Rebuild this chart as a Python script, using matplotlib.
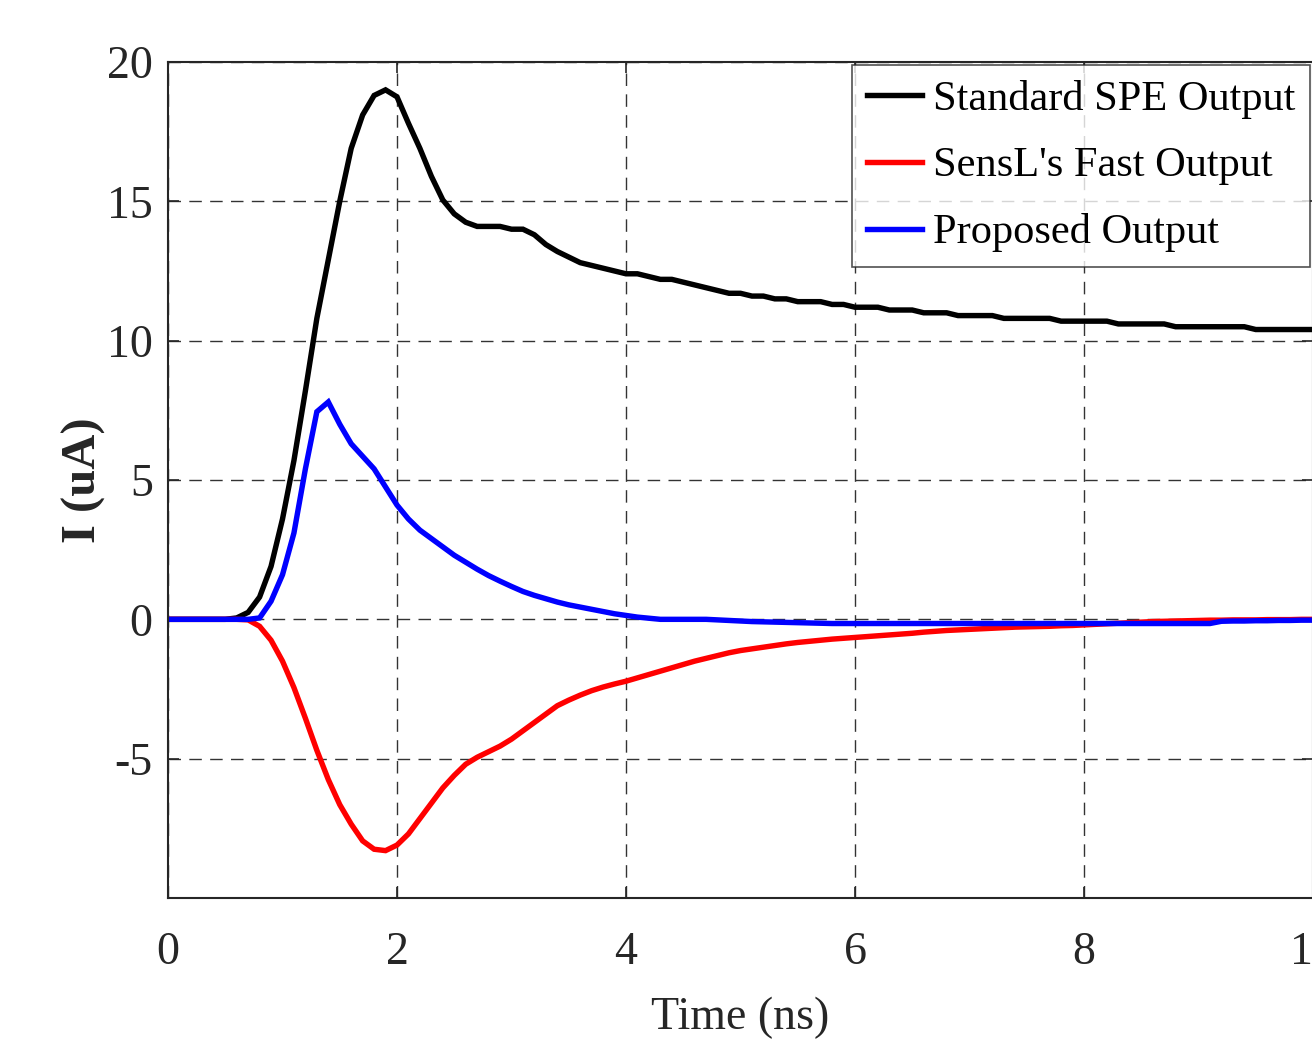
import numpy as np
import matplotlib
matplotlib.use("Agg")
import matplotlib.pyplot as plt

# ---- data (time in ns, current in uA), sampled every 0.1 ns ----
time_ns = [round(0.1 * i, 1) for i in range(101)]

standard_spe = [
    0, 0, 0, 0, 0, 0, 0.05, 0.25, 0.8, 1.9,            # 0.0-0.9
    3.6, 5.7, 8.2, 10.8, 12.9, 15.0, 16.9, 18.1, 18.8, 19.0,  # 1.0-1.9
    18.75, 17.8, 16.9, 15.9, 15.05, 14.55, 14.25, 14.1, 14.1, 14.1,  # 2.0-2.9
    14.0, 14.0, 13.8, 13.45, 13.2, 13.0, 12.8, 12.7, 12.6, 12.5,  # 3.0-3.9
    12.4, 12.4, 12.3, 12.2, 12.2, 12.1, 12.0, 11.9, 11.8, 11.7,   # 4.0-4.9
    11.7, 11.6, 11.6, 11.5, 11.5, 11.4, 11.4, 11.4, 11.3, 11.3,   # 5.0-5.9
    11.2, 11.2, 11.2, 11.1, 11.1, 11.1, 11.0, 11.0, 11.0, 10.9,   # 6.0-6.9
    10.9, 10.9, 10.9, 10.8, 10.8, 10.8, 10.8, 10.8, 10.7, 10.7,   # 7.0-7.9
    10.7, 10.7, 10.7, 10.6, 10.6, 10.6, 10.6, 10.6, 10.5, 10.5,   # 8.0-8.9
    10.5, 10.5, 10.5, 10.5, 10.5, 10.4, 10.4, 10.4, 10.4, 10.4,   # 9.0-9.9
    10.4,
]

sensl_fast = [
    0, 0, 0, 0, 0, 0, 0, -0.02, -0.25, -0.75,
    -1.5, -2.45, -3.55, -4.7, -5.75, -6.65, -7.35, -7.95, -8.25, -8.3,
    -8.1, -7.7, -7.15, -6.6, -6.05, -5.6, -5.2, -4.95, -4.75, -4.55,
    -4.3, -4.0, -3.7, -3.4, -3.1, -2.9, -2.72, -2.56, -2.43, -2.32,
    -2.22, -2.1, -1.98, -1.86, -1.74, -1.62, -1.5, -1.4, -1.3, -1.2,
    -1.12, -1.06, -1.0, -0.94, -0.88, -0.83, -0.79, -0.75, -0.71, -0.68,
    -0.65, -0.62, -0.59, -0.56, -0.53, -0.5, -0.46, -0.43, -0.4, -0.38,
    -0.36, -0.34, -0.32, -0.3, -0.28, -0.27, -0.26, -0.25, -0.23, -0.22,
    -0.2, -0.18, -0.16, -0.14, -0.12, -0.1, -0.08, -0.07, -0.06, -0.05,
    -0.04, -0.03, -0.03, -0.02, -0.02, -0.02, -0.01, -0.01, -0.01, 0.0,
    0.0,
]

proposed = [
    0, 0, 0, 0, 0, 0, 0, 0, 0.05, 0.65,
    1.6, 3.1, 5.4, 7.45, 7.8, 7.0, 6.3, 5.85, 5.4, 4.75,
    4.1, 3.6, 3.2, 2.9, 2.6, 2.3, 2.05, 1.8, 1.57, 1.37,
    1.18, 1.0, 0.86, 0.74, 0.62, 0.52, 0.44, 0.36, 0.28, 0.2,
    0.14, 0.08, 0.04, 0.0, 0.0, 0.0, 0.0, 0.0, -0.02, -0.04,
    -0.06, -0.08, -0.09, -0.1, -0.11, -0.12, -0.13, -0.14, -0.15, -0.15,
    -0.15, -0.15, -0.15, -0.15, -0.15, -0.15, -0.15, -0.15, -0.15, -0.15,
    -0.15, -0.15, -0.15, -0.15, -0.15, -0.15, -0.15, -0.15, -0.15, -0.15,
    -0.15, -0.15, -0.15, -0.15, -0.15, -0.15, -0.15, -0.15, -0.15, -0.15,
    -0.15, -0.15, -0.07, -0.06, -0.06, -0.05, -0.05, -0.04, -0.04, -0.03,
    -0.03,
]

series_labels = ["Standard SPE Output", "SensL's Fast Output", "Proposed Output"]
series_colors = ["#000000", "#ff0000", "#0000ff"]
x_ticks = [0, 2, 4, 6, 8, 10]
y_ticks = [-5, 0, 5, 10, 15, 20]

plt.rcParams['font.family'] = ['Liberation Serif', 'DejaVu Serif']

W, H = 1312, 1043
fig = plt.figure(figsize=(W / 100, H / 100), dpi=100)
ax = fig.add_axes([168 / W, (H - 898) / H, 1145 / W, 836 / H])

for vals, lab, col in zip([standard_spe, sensl_fast, proposed], series_labels, series_colors):
    ax.plot(time_ns, vals, color=col, lw=3.9, label=lab, solid_joinstyle='miter')

ax.set_xlim(0, 10)
ax.set_ylim(-10, 20)
ax.set_xticks(x_ticks)
ax.set_yticks(y_ticks)
ax.set_xticklabels([str(v) for v in x_ticks])
ax.set_yticklabels([str(v) for v in y_ticks])

ax.grid(True, color='#333333', lw=1.0, linestyle=(0, (9, 6)))
ax.tick_params(direction='in', length=8, width=1.2, colors='#262626',
               labelsize=33, top=True, right=True)
ax.tick_params(axis='x', pad=24, labelcolor='#262626')
ax.tick_params(axis='y', pad=11, labelcolor='#262626')
for sp in ax.spines.values():
    sp.set_color('#262626')
    sp.set_linewidth(1.5)

ax.set_xlabel("Time (ns)", fontsize=33, color='#262626')
ax.xaxis.set_label_coords(0.5, -(997 - 898) / 836)
ax.set_ylabel("I (uA)", fontsize=35, fontweight='bold', color='#262626')
ax.yaxis.set_label_coords((106 - 168) / 1145, 0.5)

leg = ax.legend(loc='upper right', bbox_to_anchor=(1310 / W, 1 - 65 / H),
                bbox_transform=fig.transFigure, fontsize=30.5, frameon=True,
                fancybox=False, edgecolor='#262626', handlelength=1.3,
                handletextpad=0.25, borderpad=0.35, labelspacing=0.66,
                borderaxespad=0)
leg.get_frame().set_linewidth(1.2)

fig.savefig("out.png", dpi=100)
